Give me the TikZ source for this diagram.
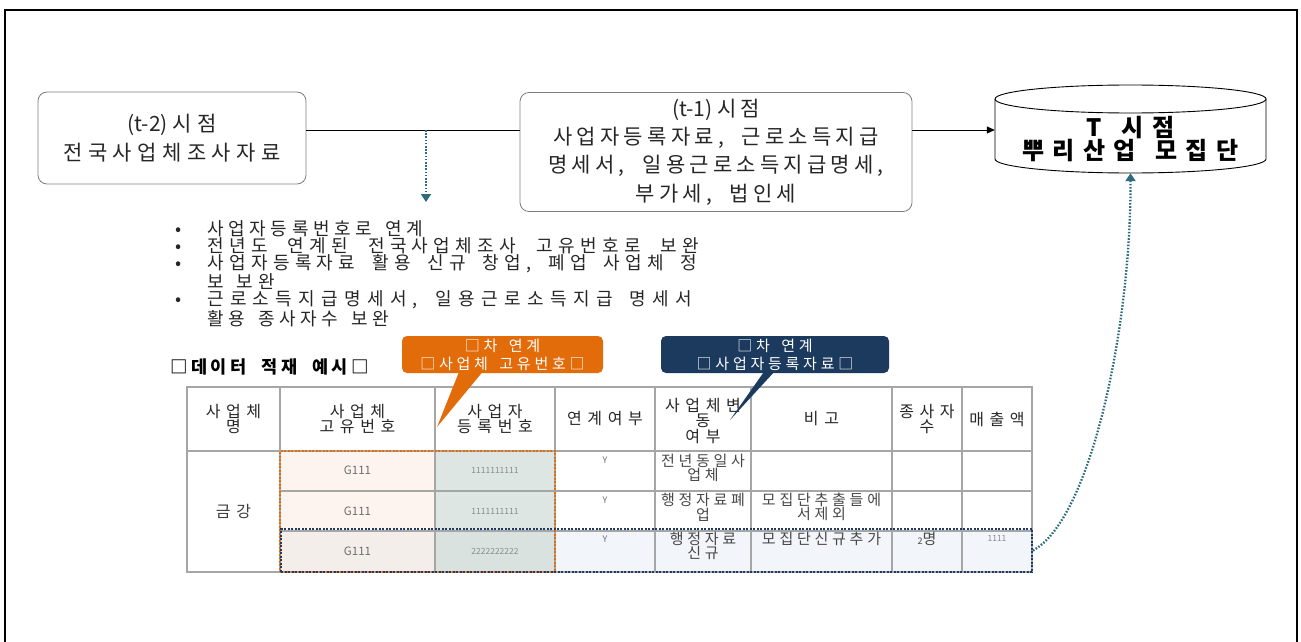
\documentclass[tikz,border=0pt]{standalone}
\usepackage{fontspec}
\setmainfont{Noto Sans CJK KR}
\newfontfamily\krn{Noto Sans CJK KR}
\newfontfamily\kra{Noto Sans CJK KR}[LetterSpace=20]
\newfontfamily\krw{Noto Sans CJK KR}[LetterSpace=26]
\newfontfamily\krb{Noto Sans CJK KR}[LetterSpace=25, WordSpace=1.6]
\newfontfamily\krc{Noto Sans CJK KR}[LetterSpace=35]
\newfontfamily\krl{Noto Sans CJK KR}[LetterSpace=26, WordSpace=1.5]
\newfontfamily\krlw{Noto Sans CJK KR}[LetterSpace=30, WordSpace=1.5]
\newfontfamily\krlx{Noto Sans CJK KR}[LetterSpace=35, WordSpace=1.5]
\newfontfamily\krt{Noto Sans CJK KR}[LetterSpace=20, WordSpace=2]
\newfontfamily\kry{Noto Sans CJK KR}[LetterSpace=35, WordSpace=1.4]
\usetikzlibrary{arrows.meta}
\definecolor{teal1}{HTML}{2E6B7E}
\definecolor{orng}{HTML}{E36C0A}
\definecolor{navy}{HTML}{1B3A5E}
\definecolor{navyd}{HTML}{1F3864}
\definecolor{gridc}{HTML}{A6A6A6}
\definecolor{txt}{HTML}{262626}
\definecolor{boxc}{HTML}{7F7F7F}
\definecolor{fo1}{HTML}{FDF4EF}
\definecolor{fg1}{HTML}{DEE6E3}
\definecolor{fo2}{HTML}{F4EEEA}
\definecolor{fg2}{HTML}{D9E2DF}
\definecolor{fb}{HTML}{F2F6FA}
\definecolor{smallc}{HTML}{6E6E6E}
\tikzset{
  rbox/.style={draw=boxc, line width=0.8pt, rounded corners=9pt, align=center, text=txt,
    font=\kra\fontsize{21}{28.3}\selectfont, inner sep=0pt},
  tealdot/.style={draw=teal1, line width=2.3pt, dash pattern=on 1.6pt off 1.6pt,
    -{Triangle[width=10pt,length=8pt]}},
  plainarrow/.style={draw=black, line width=0.8pt, -{Triangle[width=7pt,length=8pt]}},
  callout/.style={rounded corners=5pt, align=center, text=white, inner sep=0pt,
    font=\krb\fontsize{15}{18}\selectfont},
  hcell/.style={align=center, text=txt, inner sep=0pt, font=\krc\fontsize{16}{15.5}\selectfont},
  bcell/.style={align=center, text=txt!85, inner sep=0pt, font=\krb\fontsize{15}{13.5}\selectfont},
  smalltext/.style={text=smallc, inner sep=0pt, font=\krn\fontsize{11.5}{12}\selectfont},
  tinytext/.style={text=smallc!80, inner sep=0pt, font=\krn\fontsize{8.5}{9}\selectfont},
  gridl/.style={draw=gridc, line width=1.4pt},
  dotrect/.style={line width=1.8pt, dash pattern=on 2pt off 1.5pt, inner sep=0pt},
}
\newcommand{\bul}{\makebox[32pt][l]{•}}
\newcommand{\jline}[3]{\makebox[#1][s]{#2\fontsize{18}{17.2}\selectfont #3}}
\begin{document}
\begin{tikzpicture}[x=1pt,y=-1pt]
\useasboundingbox (0,0) rectangle (1301,642);
% outer frame
\draw[line width=1.5pt] (5,642) -- (5,10) -- (1297,10) -- (1297,642);

% top boxes
\node[rbox, font=\krw\fontsize{21}{28.3}\selectfont, minimum width=268, minimum height=92] (b1) at (172,138) {{\krn (t-2) }시점\\전국사업체조사자료};
\node[rbox, minimum width=392, minimum height=119] (b2) at (716,152)
  {{\krn (t-1) }시점\\사업자등록자료, 근로소득지급\\명세서, 일용근로소득지급명세,\\부가세, 법인세};

% cylinder
\fill[white] (995,99) -- (995,159) .. controls (995,166.7) and (1055.7,173) .. (1130.5,173)
  .. controls (1205.3,173) and (1266,166.7) .. (1266,159) -- (1266,99) -- cycle;
\draw[line width=0.9pt] (995,99) -- (995,159) .. controls (995,166.7) and (1055.7,173) .. (1130.5,173)
  .. controls (1205.3,173) and (1266,166.7) .. (1266,159) -- (1266,99);
\draw[line width=0.9pt, fill=white] (1130.5,99) ellipse [x radius=135.5, y radius=14];
\node[minimum width=271, minimum height=88, inner sep=0pt] (cyl) at (1130.5,129) {};
\node[align=center, text=black, inner sep=0pt, font=\kry\bfseries\fontsize{24}{23.5}\selectfont] (cylt) at (1130.5,139) {T 시점\\뿌리산업 모집단};

% connectors
\coordinate (j) at (426,130);
\coordinate (jt) at (426,202);
\draw[line width=0.8pt] (j -| b1.east) -- (j -| b2.west);
\draw[plainarrow] (j -| b2.east) -- (j -| cyl.west);
\draw[tealdot] (j) -- (jt);

% bullet list
\node[anchor=north west, align=left, text=txt, inner sep=0pt, font=\krl\fontsize{18}{17.2}\selectfont] (list) at (175,220)
{\bul 사업자등록번호로 연계\\
 \bul\jline{492pt}{\krlw}{전년도 연계된 전국사업체조사 고유번호로 보완}\\
 \bul\jline{490pt}{\krlw}{사업자등록자료 활용 신규 창업, 폐업 사업체 정}\\
 \hspace*{32pt}보 보완\\
 \bul\jline{485pt}{\krlx}{근로소득지급명세서, 일용근로소득지급 명세서}\\
 \hspace*{32pt}활용 종사자수 보완};

% title of table
\node[anchor=west, text=black, inner sep=0pt, font=\krt\bfseries\fontsize{17.5}{18}\selectfont] (ttl) at (170,367) {□데이터 적재 예시□};

% table fills
\fill[fo1] (280,451) rectangle (435,531);
\fill[fg1] (435,451) rectangle (555,531);
\fill[fo2] (280,531) rectangle (435,572);
\fill[fg2] (435,531) rectangle (555,572);
\fill[fb] (555,531) rectangle (1032,572);
% table grid
\draw[gridl] (187,387) rectangle (1032,572);
\draw[gridl] (187,451) -- (1032,451);
\draw[gridl] (280,491) -- (1032,491);
\draw[gridl] (280,531) -- (1032,531);
\foreach \cx in {280,435,555,655,751,892,962} { \draw[gridl] (\cx,387) -- (\cx,572); }

% dotted highlight rectangles
\node[dotrect, draw=orng, minimum width=275, minimum height=121] (ro) at (417.5,511.5) {};
\node[dotrect, draw=navyd, minimum width=751, minimum height=43] (rb) at (656.5,550.5) {};

% header cells
\node[hcell] (h1) at (233.5,419) {사업체\\명};
\node[hcell] (h2) at (357.5,419) {사업체\\고유번호};
\node[hcell] (h3) at (495,419) {사업자\\등록번호};
\node[hcell] (h4) at (605,419) {연계여부};
\node[hcell] (h5) at (703,421) {사업체변\\동\\여부};
\node[hcell] (h6) at (821.5,419) {비고};
\node[hcell] (h7) at (927,419) {종사자\\수};
\node[hcell] (h8) at (997,419) {매출액};

% body cells
\node[hcell, text=txt!90] (k1) at (233.5,511) {금강};
\node[smalltext] (g1) at (357.5,470) {G111};
\node[smalltext] (g2) at (357.5,511) {G111};
\node[smalltext] (g3) at (357.5,551) {G111};
\node[tinytext] (n1) at (495,470) {1111111111};
\node[tinytext] (n2) at (495,511) {1111111111};
\node[tinytext] (n3) at (495,551) {2222222222};
\node[smalltext, font=\krn\fontsize{9}{10}\selectfont] (y1) at (605,460) {Y};
\node[smalltext, font=\krn\fontsize{9}{10}\selectfont] (y2) at (605,500) {Y};
\node[smalltext, font=\krn\fontsize{9}{10}\selectfont] (y3) at (605,539) {Y};
\node[bcell] (v1) at (703,468) {전년동일사\\업체};
\node[bcell] (v2) at (703,507) {행정자료폐\\업};
\node[bcell] (v3) at (703,546) {행정자료\\신규};
\node[bcell] (r2) at (821.5,507) {모집단추출들에\\서제외};
\node[bcell] (r3) at (821.5,539) {모집단신규추가};
\node[bcell] (e3) at (927,539) {{\krn\fontsize{9}{10}\selectfont 2}명};
\node[tinytext] (s3) at (997,538) {1111};

% callouts
\node[callout, fill=orng, minimum width=201, minimum height=37] (co1) at (502.5,354.5) {□차 연계\\□사업체 고유번호□};
\coordinate (co1t) at (437,427);
\fill[orng] ([xshift=-44pt]co1.south) -- ([xshift=-21pt]co1.south) -- (co1t) -- cycle;
\node[callout, fill=navy, minimum width=228, minimum height=37] (co2) at (775,354.5) {□차 연계\\□사업자등록자료□};
\coordinate (co2t) at (730,420);
\fill[navy] ([xshift=-12pt]co2.south) -- ([xshift=-2pt]co2.south) -- (co2t) -- cycle;

% curved dotted arrow to population
\draw[tealdot] (rb.east) .. controls (1090,520) and (1131,330) .. (cyl.south);
\end{tikzpicture}
\end{document}
